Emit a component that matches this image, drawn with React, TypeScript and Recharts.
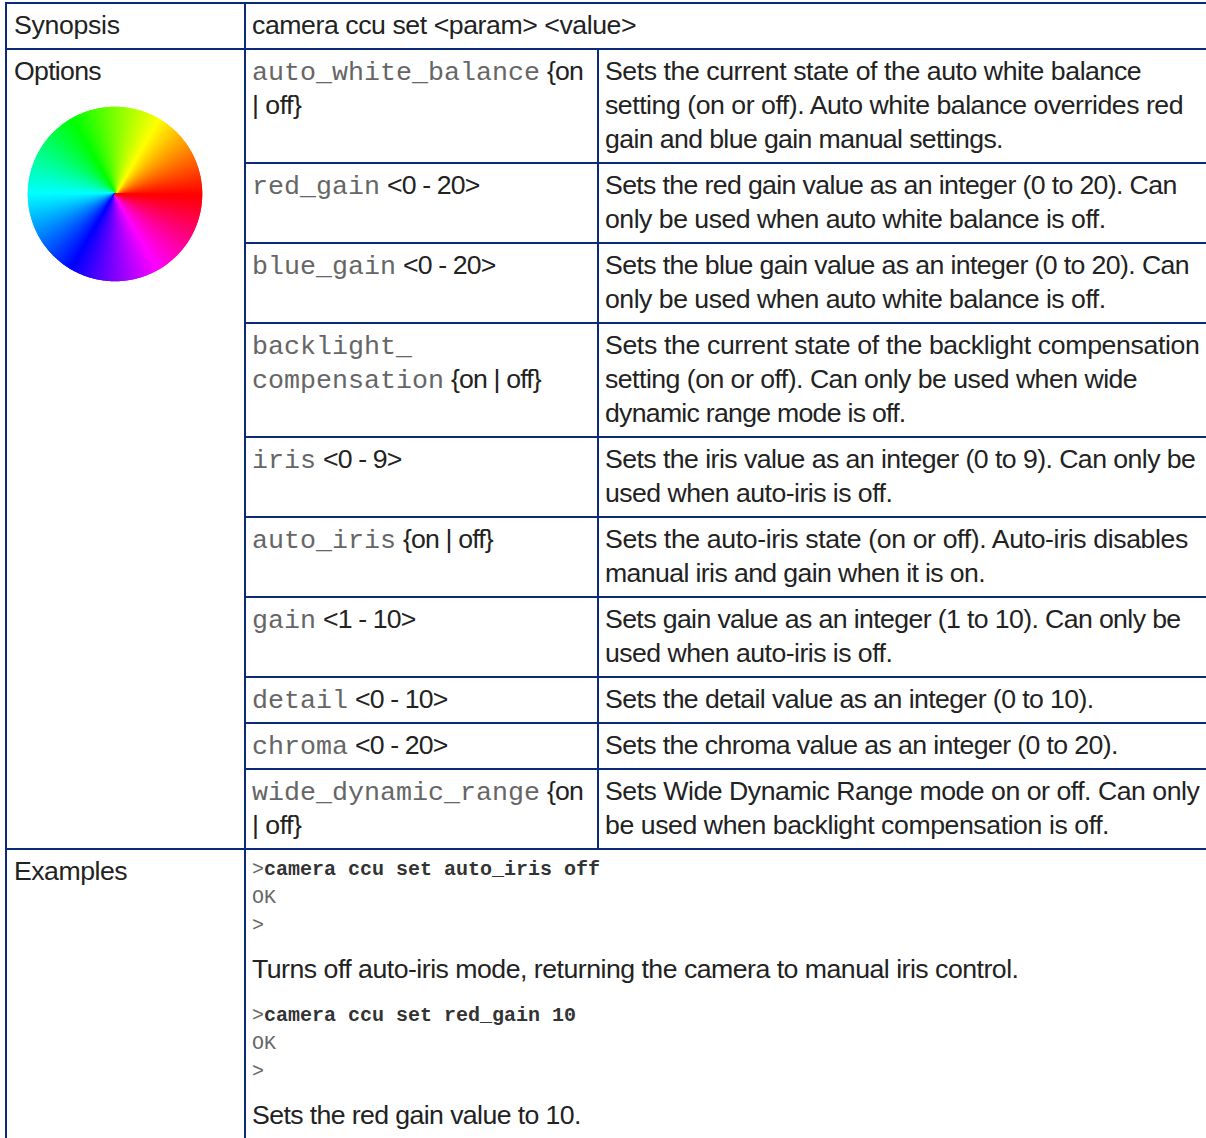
import { Cell, Pie, PieChart } from "recharts";

const LINE_COLOR = "#0b2a78";
const TEXT_COLOR = "#222222";
const MONO_COLOR = "#666666";
const SANS = '"Liberation Sans", Arial, sans-serif';
const MONO = '"Liberation Mono", "Courier New", monospace';
const BASE_TRACKING = -0.5;

// channel steps for one 60 degree run of the wheel, one per degree
const wheelRamp = [
  "00", "04", "09", "0d", "11", "15", "1a", "1e", "22", "26", "2b", "2f", "33", "37", "3c", "40", "44", "48", "4d", "51",
  "55", "59", "5e", "62", "66", "6a", "6f", "73", "77", "7b", "80", "84", "88", "8c", "91", "95", "99", "9d", "a2", "a6",
  "aa", "ae", "b3", "b7", "bb", "bf", "c4", "c8", "cc", "d0", "d5", "d9", "dd", "e1", "e6", "ea", "ee", "f2", "f7", "fb",
];
const wheelRampDown = ["ff", ...wheelRamp.slice(1).reverse()];

const wheelColors = [
  ...wheelRamp.map((v) => `#ff${v}00`),
  ...wheelRampDown.map((v) => `#${v}ff00`),
  ...wheelRamp.map((v) => `#00ff${v}`),
  ...wheelRampDown.map((v) => `#00${v}ff`),
  ...wheelRamp.map((v) => `#${v}00ff`),
  ...wheelRampDown.map((v) => `#ff00${v}`),
];

const rowLabels = ["Synopsis", "Options", "Examples"];
const synopsis = "camera ccu set <param> <value>";

const optionNames = [
  "auto_white_balance",
  "red_gain",
  "blue_gain",
  "backlight_\ncompensation",
  "iris",
  "auto_iris",
  "gain",
  "detail",
  "chroma",
  "wide_dynamic_range",
];

const optionArgs = [
  "{on\n| off}",
  "<0 - 20>",
  "<0 - 20>",
  "{on | off}",
  "<0 - 9>",
  "{on | off}",
  "<1 - 10>",
  "<0 - 10>",
  "<0 - 20>",
  "{on\n| off}",
];

const optionDescriptions = [
  ["Sets the current state of the auto white balance", "setting (on or off). Auto white balance overrides red", "gain and blue gain manual settings."],
  ["Sets the red gain value as an integer (0 to 20). Can", "only be used when auto white balance is off."],
  ["Sets the blue gain value as an integer (0 to 20). Can", "only be used when auto white balance is off."],
  ["Sets the current state of the backlight compensation", "setting (on or off). Can only be used when wide", "dynamic range mode is off."],
  ["Sets the iris value as an integer (0 to 9). Can only be", "used when auto-iris is off."],
  ["Sets the auto-iris state (on or off). Auto-iris disables", "manual iris and gain when it is on."],
  ["Sets gain value as an integer (1 to 10). Can only be", "used when auto-iris is off."],
  ["Sets the detail value as an integer (0 to 10)."],
  ["Sets the chroma value as an integer (0 to 20)."],
  ["Sets Wide Dynamic Range mode on or off. Can only", "be used when backlight compensation is off."],
];

// px to add over a whole line so its width follows the original's hinting
const descriptionNudges = [
  [3, 2, -4],
  [-7, 0],
  [-6, 0],
  [7, -1, -6],
  [-3, -1],
  [7, -4],
  [-6, -1],
  [-4],
  [-5],
  [1, 3],
];

const rowHeights = [114, 80, 80, 114, 80, 80, 80, 46, 46, 80];

const exampleCommands = ["camera ccu set auto_iris off", "camera ccu set red_gain 10"];
const exampleResults = [
  "Turns off auto-iris mode, returning the camera to manual iris control.",
  "Sets the red gain value to 10.",
];
const exampleNudges = [0, -3];

const wheelData = wheelColors.map((color) => ({ color, degrees: 1 }));

const cellStyle: React.CSSProperties = {
  border: `2px solid ${LINE_COLOR}`,
  padding: "4px 6px 6px 6px",
  verticalAlign: "top",
  overflow: "hidden",
  whiteSpace: "pre",
};

const labelCellStyle: React.CSSProperties = { ...cellStyle, paddingLeft: 7 };

const monoStyle: React.CSSProperties = {
  fontFamily: MONO,
  fontSize: 26.67,
  lineHeight: "20px",
  color: MONO_COLOR,
  letterSpacing: 0,
};

function tracked(text: string, nudge: number) {
  return BASE_TRACKING + nudge / text.length;
}

function ColorWheel() {
  return (
    <div style={{ position: "absolute", left: 15, top: 104, width: 200, height: 180, filter: "blur(0.5px)" }}>
      <PieChart width={200} height={180} margin={{ top: 0, right: 0, bottom: 0, left: 0 }}>
        <Pie
          data={wheelData}
          dataKey="degrees"
          cx={100}
          cy={90}
          innerRadius={0}
          outerRadius={86.5}
          startAngle={-0.5}
          endAngle={359.5}
          paddingAngle={0}
          isAnimationActive={false}
        >
          {wheelData.map((entry) => (
            <Cell key={entry.color} fill={entry.color} stroke={entry.color} strokeWidth={1.5} />
          ))}
        </Pie>
      </PieChart>
    </div>
  );
}

function OptionCell({ name, args }: { name: string; args: string }) {
  const nameLines = name.split("\n");
  const argLines = args.split("\n");
  const lastName = nameLines.length - 1;
  return (
    <>
      {nameLines.slice(0, lastName).map((line) => (
        <div key={line}>
          <span style={monoStyle}>{line}</span>
        </div>
      ))}
      <div>
        <span style={monoStyle}>{nameLines[lastName]}</span>
        <span style={{ marginLeft: 7, letterSpacing: -0.85 }}>{argLines[0]}</span>
      </div>
      {argLines.slice(1).map((line) => (
        <div key={line}>{line}</div>
      ))}
    </>
  );
}

function ExampleBlock({ command, result, nudge }: { command: string; result: string; nudge: number }) {
  const line: React.CSSProperties = {
    fontFamily: MONO,
    fontSize: 20,
    lineHeight: "28px",
    letterSpacing: 0,
    color: MONO_COLOR,
  };
  return (
    <>
      <div style={line}>
        {">"}
        <b style={{ color: "#333333" }}>{command}</b>
      </div>
      <div style={line}>OK</div>
      <div style={line}>{">"}</div>
      <div style={{ margin: "12px 0 16px", letterSpacing: tracked(result, nudge) }}>{result}</div>
    </>
  );
}

export default function App() {
  return (
    <div
      style={{
        position: "absolute",
        left: 0,
        top: 0,
        width: 1206,
        height: 1138,
        overflow: "hidden",
        background: "#ffffff",
      }}
    >
      <table
        style={{
          position: "absolute",
          left: 5,
          top: 2,
          width: 1260,
          tableLayout: "fixed",
          borderCollapse: "collapse",
          fontFamily: SANS,
          fontSize: 26.67,
          lineHeight: "34px",
          letterSpacing: BASE_TRACKING,
          color: TEXT_COLOR,
        }}
      >
        <colgroup>
          <col style={{ width: 239 }} />
          <col style={{ width: 353 }} />
          <col style={{ width: 668 }} />
        </colgroup>
        <tbody>
          <tr style={{ height: 46 }}>
            <td style={{ ...labelCellStyle, letterSpacing: tracked(rowLabels[0], 1.5) }}>{rowLabels[0]}</td>
            <td style={{ ...cellStyle, letterSpacing: tracked(synopsis, 2) }} colSpan={2}>
              {synopsis}
            </td>
          </tr>
          {optionNames.map((name, i) => (
            <tr key={name} style={{ height: rowHeights[i] }}>
              {i === 0 && (
                <td style={{ ...labelCellStyle, letterSpacing: tracked(rowLabels[1], -1.5) }} rowSpan={optionNames.length}>
                  {rowLabels[1]}
                </td>
              )}
              <td style={cellStyle}>
                <OptionCell name={name} args={optionArgs[i]} />
              </td>
              <td style={cellStyle}>
                {optionDescriptions[i].map((line, j) => (
                  <div key={line} style={{ letterSpacing: tracked(line, descriptionNudges[i][j]) }}>
                    {line}
                  </div>
                ))}
              </td>
            </tr>
          ))}
          <tr>
            <td style={labelCellStyle}>{rowLabels[2]}</td>
            <td style={{ ...cellStyle, paddingTop: 6 }} colSpan={2}>
              {exampleCommands.map((command, i) => (
                <ExampleBlock key={command} command={command} result={exampleResults[i]} nudge={exampleNudges[i]} />
              ))}
            </td>
          </tr>
        </tbody>
      </table>
      <ColorWheel />
    </div>
  );
}
